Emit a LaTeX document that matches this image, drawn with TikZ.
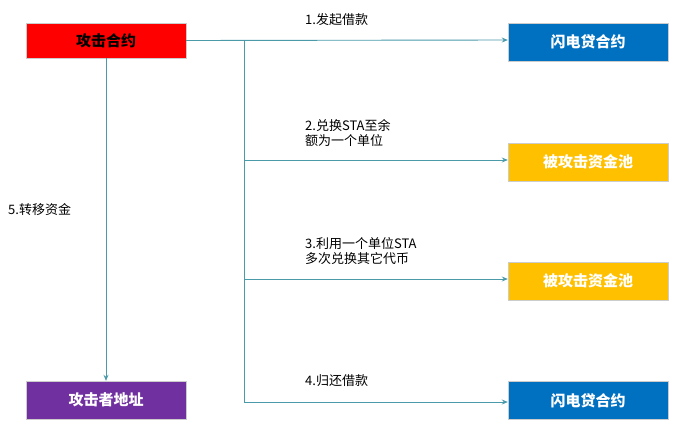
\documentclass[tikz,border=0pt]{standalone}
\usepackage{fontspec}
\setmainfont{Noto Sans CJK SC}
\usetikzlibrary{arrows.meta}
\definecolor{ln}{HTML}{4A9AAA}
\definecolor{bl}{HTML}{0070C0}
\definecolor{gd}{HTML}{FFC000}
\definecolor{pu}{HTML}{7030A0}
\begin{document}
\begin{tikzpicture}[x=1pt,y=-1pt,
  box/.style={draw=white!80!black,minimum width=160pt,minimum height=38pt,inner sep=0pt,font=\fontsize{15}{15}\selectfont\bfseries},
  con/.style={draw=ln,line width=0.9pt},
  arr/.style={con,-{Stealth[length=6pt,width=5pt]}},
  lab/.style={font=\fontsize{13}{15}\selectfont,align=left,anchor=west,inner sep=0pt}]
\useasboundingbox (0,0) rectangle (691,445);
\node[box,fill=red,minimum height=35pt] (a) at (106,40.5) {攻击合约};
\node[box,fill=bl,text=white] (f1) at (588,42) {闪电贷合约};
\node[box,fill=gd,text=white] (p1) at (588,162) {被攻击资金池};
\node[box,fill=gd,text=white] (p2) at (588,281) {被攻击资金池};
\node[box,fill=bl,text=white] (f2) at (588,400.5) {闪电贷合约};
\node[box,fill=pu,text=white] (t) at (106,400) {攻击者地址};
\coordinate (top) at (244,40);
\coordinate (b2) at (244,160);
\coordinate (b3) at (244,279);
\coordinate (b4) at (244,402);
\draw[arr] (a.east) -- (f1.west|-top);
\draw[con] (top) -- (b4);
\draw[arr] (b2) -- (p1.west|-b2);
\draw[arr] (b3) -- (p2.west|-b3);
\draw[arr] (b4) -- (f2.west|-b4);
\draw[arr] (a.south) -- (t.north);
\node[lab] (l1) at (305,20) {1.发起借款};
\node[lab] (l2) at (305,133) {2.兑换STA至余\\额为一个单位};
\node[lab] (l3) at (305,251) {3.利用一个单位STA\\多次兑换其它代币};
\node[lab] (l4) at (305,381) {4.归还借款};
\node[lab] (l5) at (8,210) {5.转移资金};
\end{tikzpicture}
\end{document}
